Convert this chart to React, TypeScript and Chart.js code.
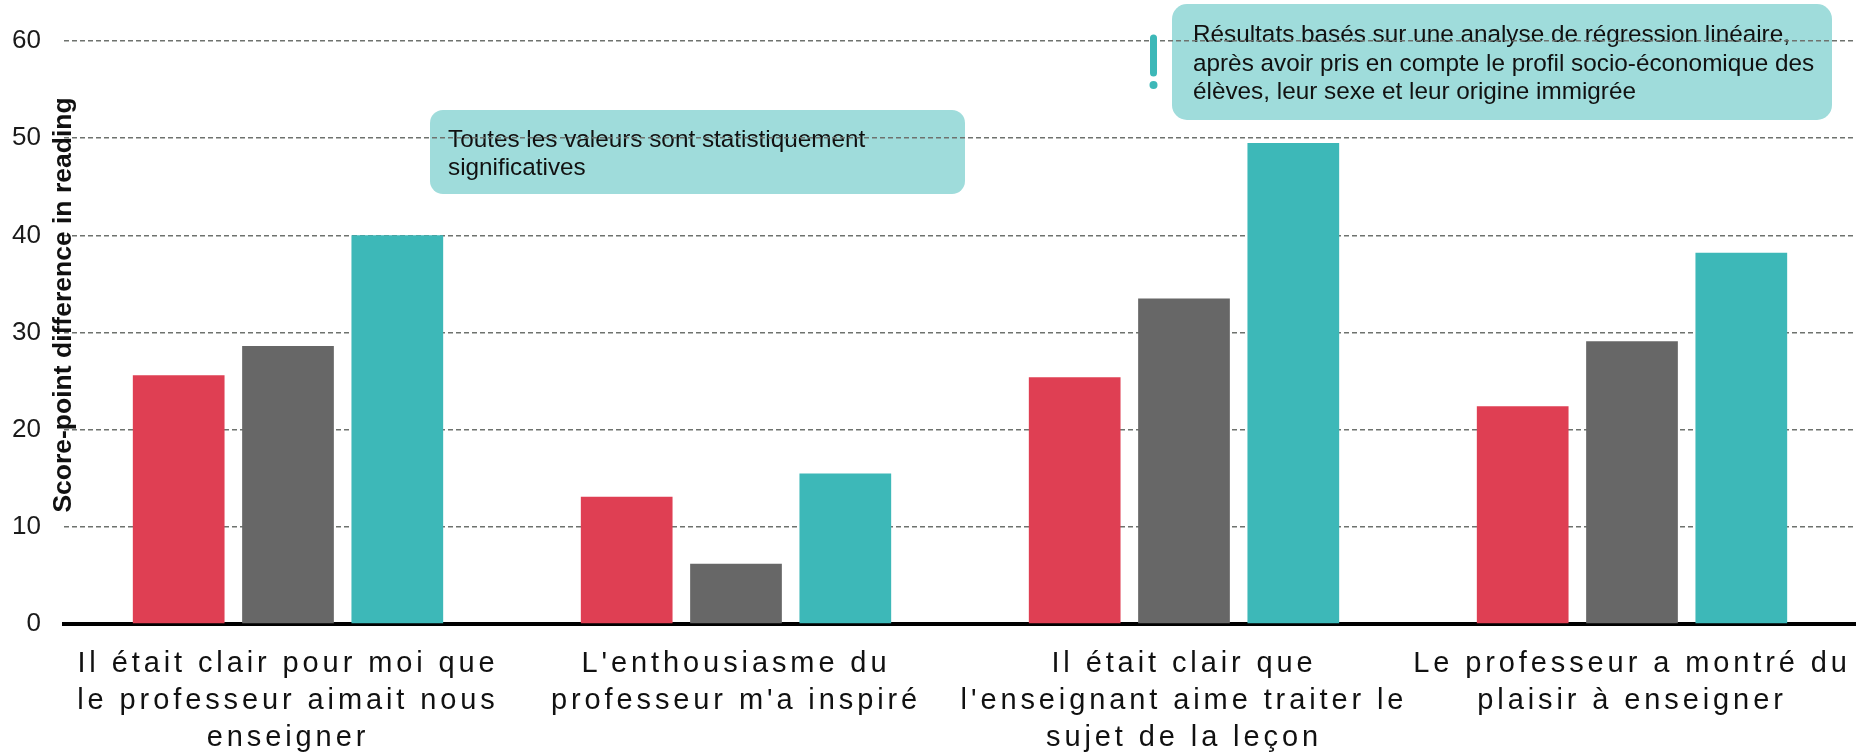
import React, { useEffect, useRef } from "react";
import { Chart, registerables } from "chart.js";

Chart.register(...registerables);

// ---------- data ----------
const categories: string[][] = [
  ["Il était clair pour moi que", "le professeur aimait nous", "enseigner"],
  ["L'enthousiasme du", "professeur m'a inspiré"],
  ["Il était clair que", "l'enseignant aime traiter le", "sujet de la leçon"],
  ["Le professeur a montré du", "plaisir à enseigner"],
];
const seriesNames = ["Série 1", "Série 2", "Série 3"];
const redValues = [25.6, 13.1, 25.4, 22.4];
const grayValues = [28.6, 6.2, 33.5, 29.1];
const tealValues = [40.0, 15.5, 49.5, 38.2];
const yTicks = [0, 10, 20, 30, 40, 50, 60];
const yTitle = "Score-point difference in reading";
const note1 = ["Toutes les valeurs sont statistiquement", "significatives"];
const note2 = [
  "Résultats basés sur une analyse de régression linéaire,",
  "après avoir pris en compte le profil socio-économique des",
  "élèves, leur sexe et leur origine immigrée",
];

// ---------- styles ----------
const FONT = '"Liberation Sans", Arial, Helvetica, sans-serif';
const RED = "#df3f53";
const GRAY = "#676767";
const TEAL = "#3db8b8";
const NOTE_BG = "#9fdcdb";
const GRID = "#6e726e";

function drawBox(ctx: CanvasRenderingContext2D, x: number, y: number, w: number, h: number, r: number) {
  ctx.beginPath();
  ctx.roundRect(x, y, w, h, r);
  ctx.fill();
}

const decorPlugin = {
  id: "decor",
  beforeDraw(chart: any) {
    const ctx: CanvasRenderingContext2D = chart.ctx;
    ctx.save();
    ctx.fillStyle = NOTE_BG;
    drawBox(ctx, 430, 110, 535, 84, 13);
    drawBox(ctx, 1172, 4, 660, 116, 15);
    ctx.fillStyle = "#111";
    ctx.font = `24.3px ${FONT}`;
    ctx.textAlign = "left";
    ctx.textBaseline = "alphabetic";
    note1.forEach((line, i) => ctx.fillText(line, 448, 147 + i * 28.3));
    note2.forEach((line, i) => ctx.fillText(line, 1193, 42 + i * 28.6));
    ctx.restore();
  },
  afterDraw(chart: any) {
    const ctx: CanvasRenderingContext2D = chart.ctx;
    const xScale = chart.scales.x;
    const area = chart.chartArea;
    ctx.save();
    // category labels
    ctx.fillStyle = "#111";
    ctx.font = `29px ${FONT}`;
    (ctx as any).letterSpacing = "3.9px";
    ctx.textAlign = "center";
    ctx.textBaseline = "alphabetic";
    categories.forEach((lines, i) => {
      const x = xScale.getPixelForValue(i);
      lines.forEach((line, k) => ctx.fillText(line, x, area.bottom + 48 + k * 37));
    });
    (ctx as any).letterSpacing = "0px";
    // y axis title
    ctx.save();
    ctx.translate(64, 305);
    ctx.rotate(-Math.PI / 2);
    ctx.font = `bold 26.5px ${FONT}`;
    ctx.textAlign = "center";
    ctx.textBaseline = "middle";
    ctx.fillStyle = "#111";
    ctx.fillText(yTitle, 0, 0);
    ctx.restore();
    // exclamation icon
    ctx.strokeStyle = TEAL;
    ctx.fillStyle = TEAL;
    ctx.lineWidth = 7;
    ctx.lineCap = "round";
    ctx.beginPath();
    ctx.moveTo(1153.5, 38);
    ctx.lineTo(1153.5, 73);
    ctx.stroke();
    ctx.beginPath();
    ctx.arc(1153.5, 85, 4, 0, Math.PI * 2);
    ctx.fill();
    ctx.restore();
  },
};

export default function App() {
  const canvasRef = useRef<HTMLCanvasElement | null>(null);

  useEffect(() => {
    document.body.style.margin = "0";
    document.documentElement.style.overflow = "hidden";
    const canvas = canvasRef.current;
    if (!canvas) return;
    const chart = new Chart(canvas, {
      type: "bar",
      data: {
        labels: categories,
        datasets: [
          { label: seriesNames[0], data: redValues, backgroundColor: RED },
          { label: seriesNames[1], data: grayValues, backgroundColor: GRAY },
          { label: seriesNames[2], data: tealValues, backgroundColor: TEAL },
        ],
      },
      options: {
        responsive: false,
        devicePixelRatio: 1,
        animation: false,
        datasets: {
          bar: { categoryPercentage: 0.732, barPercentage: 0.839 },
        },
        layout: { padding: { top: 41, right: 0, bottom: 0, left: 0 } },
        plugins: {
          legend: { display: false },
          tooltip: { enabled: false },
        },
        scales: {
          x: {
            grid: { display: false },
            border: { display: true, color: "#000", width: 4 },
            ticks: { display: false },
            afterFit: (scale: any) => {
              scale.height = 130;
            },
          },
          y: {
            min: yTicks[0],
            max: yTicks[yTicks.length - 1],
            ticks: {
              stepSize: yTicks[1] - yTicks[0],
              padding: 23,
              color: "#1a1a1a",
              font: { family: FONT, size: 26 },
            },
            grid: { color: GRID, lineWidth: 1.5, drawTicks: false },
            border: { display: false, dash: [5, 3] },
            afterFit: (scale: any) => {
              scale.width = 64;
            },
          },
        },
      } as any,
      plugins: [decorPlugin],
    });
    return () => chart.destroy();
  }, []);

  return (
    <div style={{ width: 1856, height: 754, position: "relative" }}>
      <canvas ref={canvasRef} width={1856} height={754} style={{ display: "block", width: 1856, height: 754 }} />
    </div>
  );
}
